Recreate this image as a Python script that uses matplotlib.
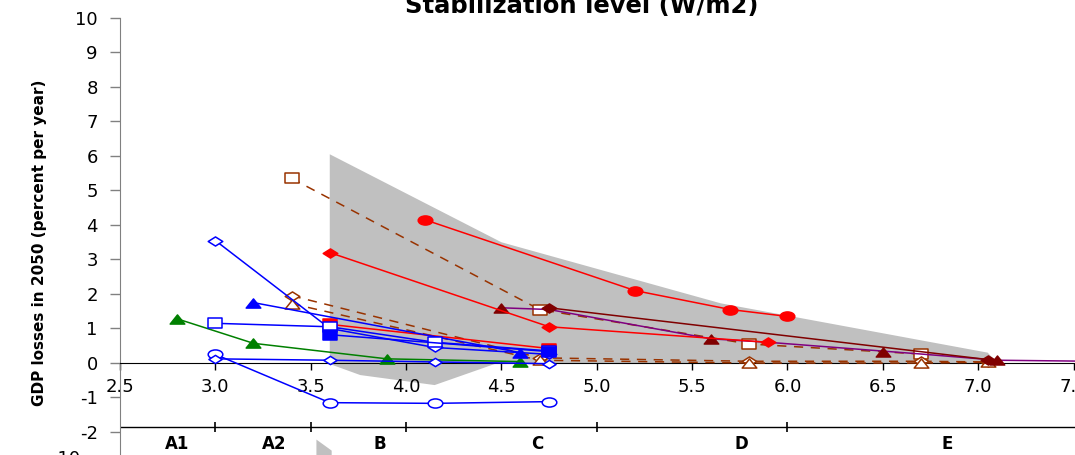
import numpy as np
import matplotlib
matplotlib.use("Agg")
import matplotlib.pyplot as plt
from matplotlib.path import Path

plt.rcParams["font.family"] = ["DejaVu Sans"]
plt.rcParams["axes.unicode_minus"] = False

# ---------------------------------------------------------------------------
# values
# ---------------------------------------------------------------------------
x_ticks = [2.5, 3.0, 3.5, 4.0, 4.5, 5.0, 5.5, 6.0, 6.5, 7.0, 7.5]
y_ticks = list(range(-2, 11))

categories = ["A1", "A2", "B", "C", "D", "E"]
category_x = [2.8, 3.31, 3.86, 4.69, 5.76, 6.84]
category_bounds = [3.0, 3.5, 4.0, 5.0, 6.0]

# grey literature range
range_upper_x = [3.6, 4.5, 5.65, 7.05]
range_upper_y = [6.05, 3.5, 1.73, 0.3]
range_lower_x = [7.1, 4.48, 4.15, 3.76, 3.6]
range_lower_y = [0.0, 0.0, -0.64, -0.35, -0.03]

# blue
blue_big_diam_x = [3.0, 3.6, 4.15, 4.75]
blue_big_diam_y = [3.55, 1.0, 0.45, 0.25]
blue_open_sq_x = [3.0, 3.6, 4.15, 4.75]
blue_open_sq_y = [1.15, 1.05, 0.6, 0.35]
blue_fill_sq_x = [3.6, 4.75]
blue_fill_sq_y = [0.82, 0.33]
blue_tri_x = [3.2, 4.6]
blue_tri_y = [1.75, 0.3]
blue_circ_x = [3.0, 3.6, 4.15, 4.75]
blue_circ_y = [0.25, -1.15, -1.17, -1.12]
blue_small_diam_x = [3.0, 3.6, 4.15, 4.75]
blue_small_diam_y = [0.12, 0.08, 0.03, -0.02]

# green
green_tri_x = [2.8, 3.2, 3.9, 4.6]
green_tri_y = [1.28, 0.57, 0.12, 0.04]

# red
red_diam_x = [3.6, 4.75, 5.9]
red_diam_y = [3.2, 1.05, 0.6]
red_circ_x = [4.1, 5.2, 5.7, 6.0]
red_circ_y = [4.15, 2.1, 1.55, 1.35]
red_sq_x = [3.6, 4.75]
red_sq_y = [1.12, 0.42]

# brown (dashed)
brown_sq_x = [3.4, 4.7, 5.8, 6.7]
brown_sq_y = [5.35, 1.55, 0.55, 0.26]
brown_diam_x = [3.4, 4.7, 5.8, 6.7, 7.05]
brown_diam_y = [1.95, 0.15, 0.05, 0.05, 0.03]
brown_tri_x = [3.4, 4.7, 5.8, 6.7, 7.05]
brown_tri_y = [1.72, 0.08, 0.0, 0.0, 0.02]

# maroon / purple
maroon_diam_x = [4.75, 7.05]
maroon_diam_y = [1.6, 0.1]
maroon_tri_x = [4.5, 5.6, 6.5, 7.1]
maroon_tri_y = [1.6, 0.7, 0.32, 0.08]
purple_x = [4.5, 4.75, 5.6, 5.9, 6.7, 7.1, 7.6]
purple_y = [1.6, 1.55, 0.7, 0.6, 0.26, 0.08, 0.05]

# ---------------------------------------------------------------------------
# wide marker shapes (the original chart is stretched horizontally)
# ---------------------------------------------------------------------------
SQ = Path([(-0.8, -0.5), (0.8, -0.5), (0.8, 0.5), (-0.8, 0.5), (-0.8, -0.5)], closed=True)
DI = Path([(0, -0.5), (0.8, 0), (0, 0.5), (-0.8, 0), (0, -0.5)], closed=True)
TR = Path([(-0.8, -0.5), (0.8, -0.5), (0, 0.5), (-0.8, -0.5)], closed=True)
_c = Path.unit_circle()
CI = Path(_c.vertices * [1.6, 1.0], _c.codes)

BLUE, GREEN, RED = "#0000FF", "#008000", "#FF0000"
BROWN, MAROON, PURPLE = "#993300", "#800000", "#800080"
GREY = "#C0C0C0"

PX_PER_X = 190.7
fig = plt.figure(figsize=(10.75, 4.55), dpi=100)
# axes runs a little past the right edge so the 7.5 label is cut like the original
ax = fig.add_axes([120 / 1075, 0, 960 / 1075, 437 / 455])
ax.set_xlim(2.5, 2.5 + 960 / PX_PER_X)
ax.set_ylim(-2.667, 10)

ax.fill(range_upper_x + range_lower_x, range_upper_y + range_lower_y,
        color=GREY, lw=0, zorder=1)
# piece of the panel below
ax.fill([3.53, 3.61, 3.61, 3.53], [-2.22, -2.54, -2.8, -2.8], color=GREY, lw=0, zorder=1)


def series(x, y, color, marker, filled, ls="-", ms=10.5):
    ax.plot(x, y, color=color, lw=1.1, ls=ls, marker=marker, ms=ms,
            mfc=color if filled else "white", mec=color, mew=1.1, zorder=3,
            dashes=(6, 5) if ls == "--" else (None, None))


series(brown_sq_x, brown_sq_y, BROWN, SQ, False, "--")
series(brown_diam_x, brown_diam_y, BROWN, DI, False, "--")
series(brown_tri_x, brown_tri_y, BROWN, TR, False, "--")

ax.plot(purple_x, purple_y, color=PURPLE, lw=1.1, zorder=3)
series(maroon_diam_x, maroon_diam_y, MAROON, DI, True)
ax.plot(maroon_tri_x, maroon_tri_y, ls="none", marker=TR, ms=10.5,
        color=MAROON, zorder=3)

series(red_circ_x, red_circ_y, RED, CI, True)
series(red_diam_x, red_diam_y, RED, DI, True)
series(red_sq_x, red_sq_y, RED, SQ, True)

series(green_tri_x, green_tri_y, GREEN, TR, True)

series(blue_circ_x, blue_circ_y, BLUE, CI, False)
series(blue_small_diam_x, blue_small_diam_y, BLUE, DI, False, ms=9.5)
series(blue_tri_x, blue_tri_y, BLUE, TR, True)
series(blue_big_diam_x, blue_big_diam_y, BLUE, DI, False)
series(blue_open_sq_x, blue_open_sq_y, BLUE, SQ, False)
series(blue_fill_sq_x, blue_fill_sq_y, BLUE, SQ, True)

# axes styling
for side in ("top", "right"):
    ax.spines[side].set_visible(False)
ax.spines["bottom"].set_position(("data", 0))
ax.spines["bottom"].set_color("black")
ax.spines["left"].set_color("#808080")

ax.set_xticks(x_ticks)
ax.set_xticklabels([f"{v:.1f}" for v in x_ticks])
ax.set_yticks(y_ticks)
ax.tick_params(axis="x", direction="out", length=5, width=1, color="black",
               pad=6, labelsize=13)
ax.tick_params(axis="y", direction="out", length=7, width=1, color="#808080",
               pad=9, labelsize=13)

# category strip
ax.axhline(-1.85, color="black", lw=1, zorder=2)
ax.plot(category_bounds, [-1.85] * len(category_bounds), ls="none",
        marker="|", ms=7.5, mew=1.2, color="black", zorder=2)
for cx, lab in zip(category_x, categories):
    ax.text(cx, -2.34, lab, ha="center", va="center", fontsize=12, fontweight="bold")

fig.text(582 / 1075, 1 - 13 / 455, "Stabilization level (W/m2)", ha="center",
         va="baseline", fontsize=17.5, fontweight="bold")
fig.text(40 / 1075, 1 - 243 / 455, "GDP losses in 2050 (percent per year)",
         rotation=90, ha="center", va="center", fontsize=11, fontweight="bold")
fig.text(80 / 1075, 1 - 450 / 455, "-10", ha="right", va="top", fontsize=13)

fig.savefig("out.png", dpi=100)
